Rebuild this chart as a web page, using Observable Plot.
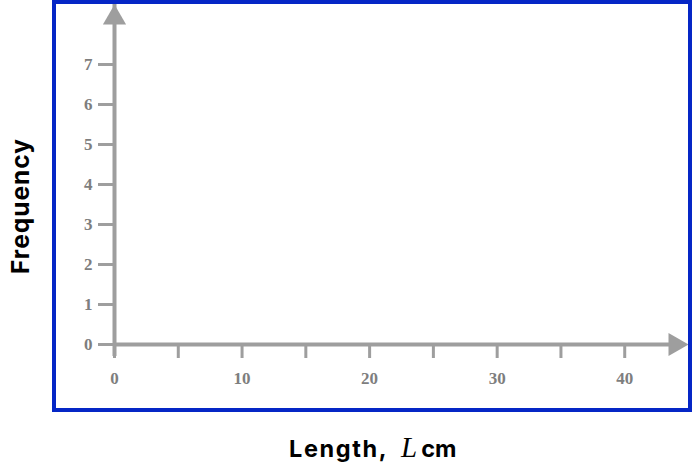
<!DOCTYPE html>
<html>
<head>
<meta charset="utf-8">
<script src="https://cdn.jsdelivr.net/npm/d3@7"></script>
<script src="https://cdn.jsdelivr.net/npm/@observablehq/plot@0.6"></script>
<style>
  html, body { margin: 0; padding: 0; background: #fff; }
  #wrap { position: relative; width: 694px; height: 466px; overflow: hidden; }
  #box { position: absolute; left: 52px; top: 0; width: 640px; height: 412px; box-sizing: border-box; border: 4px solid #0526c6; pointer-events: none; }
  #chart svg text { font-family: "Liberation Serif", serif !important; font-size: 17px !important; font-weight: bold !important; }
  .ttl { position: absolute; font-family: Inter, sans-serif; font-weight: 700; color: #000; white-space: nowrap; }
  #xt { left: 289px; top: 434px; font-size: 23.5px; line-height: 26px; }
  #xt .w { letter-spacing: 1.6px; }
  #xt i { font-family: "Liberation Serif", serif; font-weight: 400; font-style: italic; font-size: 29px; margin: 0 4px 0 13px; letter-spacing: 0; }
  #yt { left: 20px; top: 206px; transform: translate(-50%, -50%) rotate(-90deg); font-size: 24.5px; line-height: 28px; letter-spacing: 1px; }
</style>
</head>
<body>
<div id="wrap">
  <div id="chart"></div>
  <div id="box"></div>
  <div class="ttl" id="xt"></div>
  <div class="ttl" id="yt"></div>
</div>
<script>
// Axis extents (data units)
const xMax = 45;
const yMax = 8.5;

// Tick values and labels
const xTicks = [0, 5, 10, 15, 20, 25, 30, 35, 40];
const xTickLabels = ["0", "", "10", "", "20", "", "30", "", "40"];
const yTicks = [0, 1, 2, 3, 4, 5, 6, 7];
const yTickLabels = ["0", "1", "2", "3", "4", "5", "6", "7"];

// Titles
const xTitleText = "Length,";
const xTitleVar = "L";
const xTitleUnit = "cm";
const yTitleText = "Frequency";

const axisGray = "#9e9e9e";
const labelGray = "#7e7e7e";

const xLab = new Map(xTicks.map((t, i) => [t, xTickLabels[i]]));
const yLab = new Map(yTicks.map((t, i) => [t, yTickLabels[i]]));

const chart = Plot.plot({
  width: 694,
  height: 466,
  marginLeft: 114,
  marginRight: 6,
  marginTop: 4,
  marginBottom: 122,
  x: {domain: [0, xMax]},
  y: {domain: [0, yMax]},
  style: {fontFamily: "'Liberation Serif', serif", fontSize: "17px", fontWeight: "bold", color: labelGray, background: "white"},
  marks: [
    Plot.axisX({ticks: xTicks, tickFormat: d => xLab.get(d), tickSize: 14, tickPadding: 13, stroke: axisGray, strokeWidth: 3, fill: labelGray, fontSize: 17, fontWeight: "bold", label: null}),
    Plot.axisY({ticks: yTicks, tickFormat: d => yLab.get(d), tickSize: 16, tickPadding: 6, stroke: axisGray, strokeWidth: 3, fill: labelGray, fontSize: 17, fontWeight: "bold", label: null}),
    Plot.ruleY([0], {x1: 0, x2: xMax, stroke: axisGray, strokeWidth: 4, insetRight: 12}),
    Plot.ruleX([0], {y1: 0, y2: yMax, stroke: axisGray, strokeWidth: 4, insetTop: 12}),
    Plot.dot([{x: xMax, y: 0}], {x: "x", y: "y", symbol: "triangle", r: 8.6, fill: axisGray, stroke: "none", rotate: 90, dx: -13.3}),
    Plot.dot([{x: 0, y: yMax}], {x: "x", y: "y", symbol: "triangle", r: 8.6, fill: axisGray, stroke: "none", dy: 13.3})
  ]
});
document.getElementById("chart").appendChild(chart);

const xt = document.getElementById("xt");
const w = document.createElement("span");
w.className = "w";
w.textContent = xTitleText;
xt.append(w);
const iv = document.createElement("i");
iv.textContent = xTitleVar;
xt.append(iv);
xt.append(xTitleUnit);
document.getElementById("yt").textContent = yTitleText;
</script>
</body>
</html>
